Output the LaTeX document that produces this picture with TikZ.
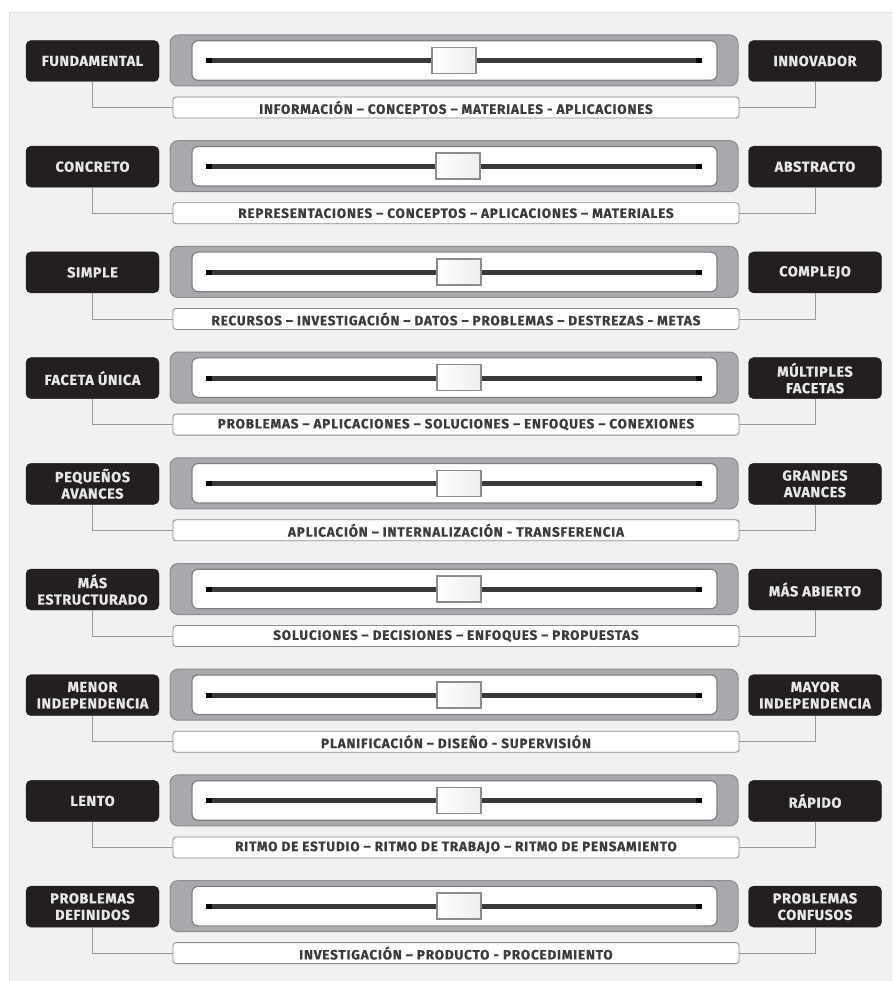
\documentclass[tikz,border=0pt]{standalone}
\usepackage{fontspec}
\setmainfont{Fira Sans}
\newfontfamily\boxfont{Fira Sans}[LetterSpace=4, FakeBold=0.6]
\newfontfamily\labelfont{Fira Sans}[LetterSpace=6, FakeBold=0.6]
\usetikzlibrary{calc}
\definecolor{panel}{HTML}{F1F1F1}
\definecolor{boxblack}{HTML}{231F20}
\definecolor{boxtext}{HTML}{E6E6E6}
\definecolor{slidergrey}{HTML}{A7A9AC}
\definecolor{sliderborder}{HTML}{8A8C8E}
\definecolor{innerborder}{HTML}{7D7F81}
\definecolor{trackcol}{HTML}{3A3A3A}
\definecolor{labeltext}{HTML}{3C3C3C}
\definecolor{linecol}{HTML}{9A9A9A}
\tikzset{
  endbox/.style={draw=boxblack, fill=boxblack, rounded corners=5pt, minimum width=133pt, minimum height=41pt,
    inner sep=0pt, text=boxtext, font=\boxfont\bfseries\fontsize{14.5}{16.5}\selectfont, align=center},
  outerbox/.style={draw=sliderborder, line width=1pt, fill=slidergrey, rounded corners=8pt, minimum width=568pt, minimum height=51pt, inner sep=0pt},
  innerbox/.style={draw=innerborder, line width=1.2pt, fill=white, rounded corners=6pt, minimum width=525pt, minimum height=39.5pt, inner sep=0pt},
  labelbox/.style={draw=sliderborder, line width=0.8pt, fill=white, rounded corners=3pt, minimum width=566pt, minimum height=21pt,
    inner sep=0pt, text=labeltext, font=\labelfont\bfseries\fontsize{13.5}{14}\selectfont},
  handlebox/.style={draw=sliderborder, line width=1.6pt, left color=white, right color=white!80!slidergrey, minimum width=44pt, minimum height=26pt, inner sep=0pt},
  track/.style={line width=5pt, draw=trackcol},
  trackend/.style={line width=5pt, draw=black},
  conn/.style={draw=linecol, line width=0.8pt},
}
\newcommand{\sliderrow}[6]{%
  % #1 index, #2 center y, #3 left text, #4 right text, #5 label, #6 handle x
  \node[outerbox] (S#1) at (454,#2) {};
  \node[innerbox] (I#1) at (454.5,#2) {};
  \coordinate (A#1) at (206,#2+0.5);
  \coordinate (B#1) at (702,#2+0.5);
  \draw[track] (A#1) -- (B#1);
  \draw[trackend] (A#1) -- ++(6,0);
  \draw[trackend] (B#1) -- ++(-6,0);
  \node[handlebox] (H#1) at (#6,#2) {};
  \node[endbox] (L#1) at (92.5,#2+0.5) {#3};
  \node[endbox] (R#1) at (815,#2+0.5) {#4};
  \node[labelbox] (T#1) at (456,#2+47) {#5};
  \draw[conn] (L#1.south) |- (T#1.west);
  \draw[conn] (R#1.south) |- (T#1.east);
}
\begin{document}
\begin{tikzpicture}[x=1pt,y=-1pt]
\useasboundingbox (0,0) rectangle (892,981);
\fill[white] (0,0) rectangle (892,981);
\fill[panel] (9,12) rectangle (892,981);
\draw[white!88!black, line width=0.6pt] (9,981) -- (9,12) -- (892,12);
\sliderrow{1}{60.5}{FUNDAMENTAL}{INNOVADOR}{INFORMACIÓN – CONCEPTOS – MATERIALES - APLICACIONES}{454}
\sliderrow{2}{166.2}{CONCRETO}{ABSTRACTO}{REPRESENTACIONES – CONCEPTOS – APLICACIONES – MATERIALES}{458}
\sliderrow{3}{271.9}{SIMPLE}{COMPLEJO}{RECURSOS – INVESTIGACIÓN – DATOS – PROBLEMAS – DESTREZAS - METAS}{459}
\sliderrow{4}{377.6}{FACETA ÚNICA}{MÚLTIPLES\\FACETAS}{PROBLEMAS – APLICACIONES – SOLUCIONES – ENFOQUES – CONEXIONES}{459}
\sliderrow{5}{483.3}{PEQUEÑOS\\AVANCES}{GRANDES\\AVANCES}{APLICACIÓN – INTERNALIZACIÓN - TRANSFERENCIA}{459}
\sliderrow{6}{589.0}{MÁS\\ESTRUCTURADO}{MÁS ABIERTO}{SOLUCIONES – DECISIONES – ENFOQUES – PROPUESTAS}{459}
\sliderrow{7}{694.7}{MENOR\\INDEPENDENCIA}{MAYOR\\INDEPENDENCIA}{PLANIFICACIÓN – DISEÑO - SUPERVISIÓN}{459}
\sliderrow{8}{800.4}{LENTO}{RÁPIDO}{RITMO DE ESTUDIO – RITMO DE TRABAJO – RITMO DE PENSAMIENTO}{459}
\sliderrow{9}{906.1}{PROBLEMAS\\DEFINIDOS}{PROBLEMAS\\CONFUSOS}{INVESTIGACIÓN – PRODUCTO - PROCEDIMIENTO}{459}
\end{tikzpicture}
\end{document}
